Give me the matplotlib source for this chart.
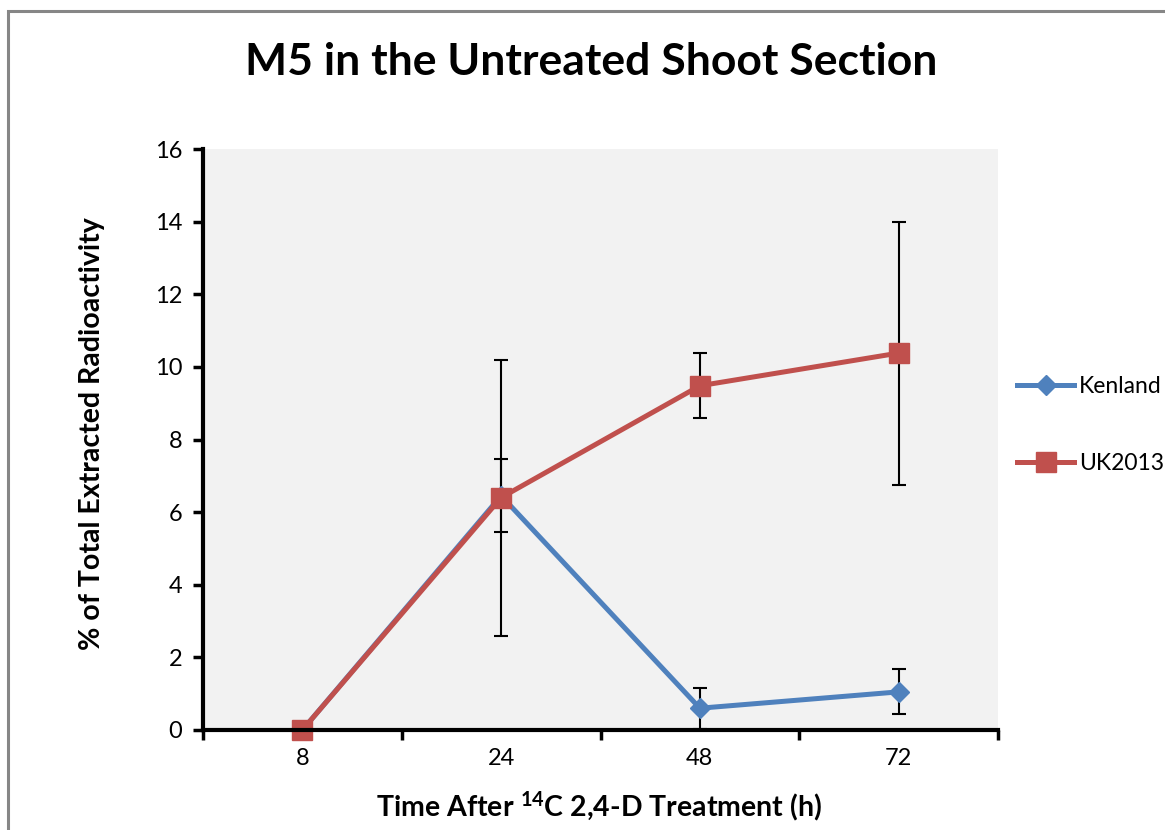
import matplotlib
matplotlib.use("Agg")
import matplotlib.pyplot as plt
from matplotlib.patches import Rectangle

categories = ["8", "24", "48", "72"]
kenland = [0.0, 6.45, 0.6, 1.05]
kenland_err = [0.0, 1.0, 0.57, 0.62]
uk2013 = [0.0, 6.4, 9.48, 10.38]
uk2013_err = [0.0, 3.8, 0.9, 3.62]
yticks = [0, 2, 4, 6, 8, 10, 12, 14, 16]

FONT = "Lato"
plt.rcParams["font.family"] = [FONT, "DejaVu Sans"]
plt.rcParams["mathtext.fontset"] = "custom"
plt.rcParams["mathtext.rm"] = FONT
plt.rcParams["mathtext.bf"] = FONT + ":bold"

BLUE = "#4F81BD"
RED = "#C0504D"

fig = plt.figure(figsize=(11.65, 8.3), dpi=100)
W, H = 1165, 830
# outer chart border
fig.add_artist(Rectangle((8 / W, -0.1), 1.2, 1 - 11 / H + 0.1, transform=fig.transFigure,
                         fill=False, edgecolor="#868686", linewidth=2.2))

ax = fig.add_axes([203 / W, 1 - 730 / H, (998 - 203) / W, (730 - 149) / H])
ax.set_facecolor("#F2F2F2")
x = list(range(len(categories)))

ax.errorbar(x, kenland, yerr=kenland_err, fmt="none", ecolor="black", elinewidth=1.5,
            capsize=5, capthick=1.5, zorder=2)
ax.errorbar(x, uk2013, yerr=uk2013_err, fmt="none", ecolor="black", elinewidth=1.5,
            capsize=5, capthick=1.5, zorder=2)
ax.plot(x, kenland, color=BLUE, lw=3.6, marker="D", markersize=10, label="Kenland", zorder=3,
        clip_on=False)
ax.plot(x, uk2013, color=RED, lw=3.6, marker="s", markersize=14, label="UK2013", zorder=4,
        clip_on=False)

ax.set_xlim(-0.5, len(categories) - 0.5)
ax.set_ylim(0, 16)
ax.set_yticks(yticks)
ax.set_yticklabels([str(v) for v in yticks], fontsize=17)
ax.set_xticks([i - 0.5 for i in range(len(categories) + 1)])
ax.set_xticklabels([])
ax.set_xticks(x, minor=True)
ax.set_xticklabels(categories, minor=True, fontsize=17)
ax.tick_params(axis="x", which="major", direction="out", length=7, width=2.5)
ax.tick_params(axis="x", which="minor", length=0, pad=13)
ax.tick_params(axis="y", direction="out", length=7, width=2.5, pad=8)
for s in ["top", "right"]:
    ax.spines[s].set_visible(False)
for s in ["left", "bottom"]:
    ax.spines[s].set_linewidth(3)
    ax.spines[s].set_zorder(5)

fig.text(591 / W, 1 - 62 / H, "M5 in the Untreated Shoot Section", fontsize=32,
         fontweight="bold", ha="center", va="center")
fig.text(92 / W, 1 - 434 / H, "% of Total Extracted Radioactivity", fontsize=20.5,
         fontweight="bold", rotation=90, ha="center", va="center")
fig.text(599 / W, 1 - 806 / H, r"Time After $\mathbf{^{14}}$C 2,4-D Treatment (h)",
         fontsize=20.5, fontweight="bold", ha="center", va="center")

fig.legend(loc="center left", bbox_to_anchor=(1017 / W, 1 - 425 / H), frameon=False,
           fontsize=16.5, handlelength=2.5, labelspacing=2.45, handletextpad=0.2,
           borderpad=0, borderaxespad=0)

fig.savefig("out.png", dpi=100)
